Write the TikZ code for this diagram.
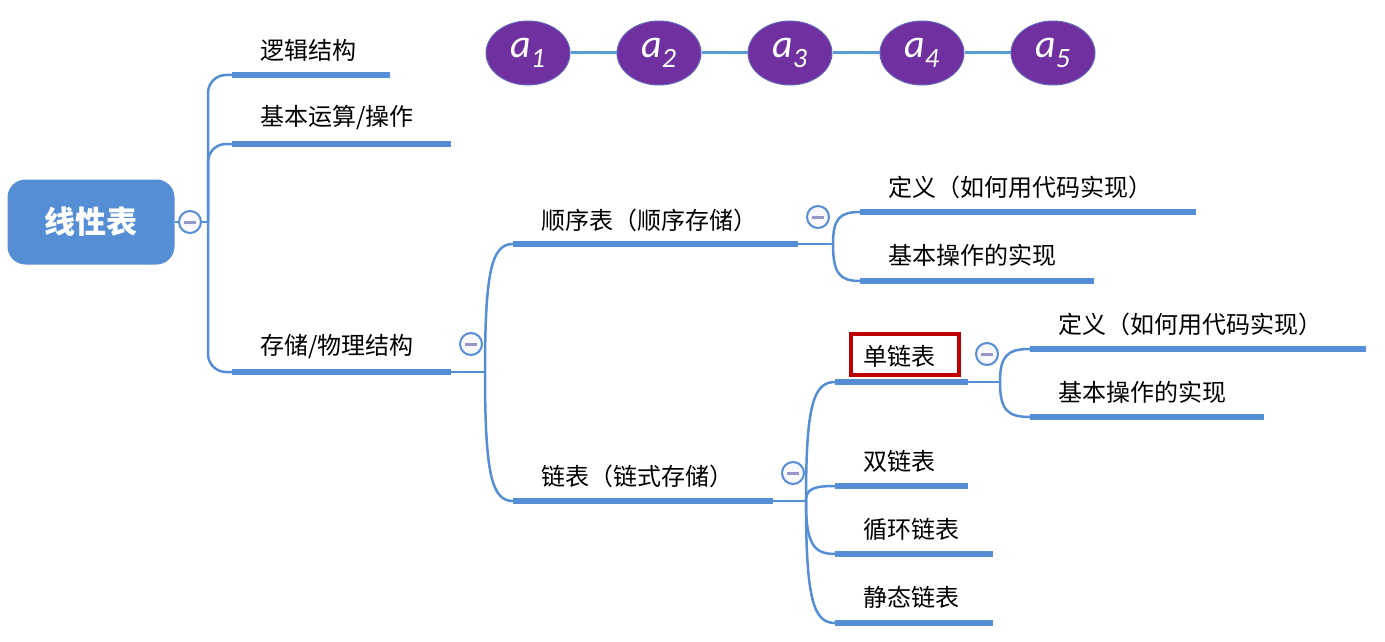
\documentclass[tikz,border=0pt]{standalone}
\usepackage{fontspec}
\setmainfont{Noto Sans CJK SC}
\newfontfamily\latinf{Carlito}
\usetikzlibrary{shapes.geometric,calc}
\definecolor{mblue}{RGB}{85,142,213}
\definecolor{lblue}{RGB}{91,155,213}
\definecolor{epurple}{RGB}{112,48,160}
\definecolor{dred}{RGB}{192,0,0}
\definecolor{minusc}{RGB}{150,150,200}
\definecolor{foldfill}{RGB}{248,248,250}
\begin{document}
\begin{tikzpicture}[x=1pt,y=-1pt,
 lbl/.style={anchor=west,inner sep=0pt,font=\fontsize{24}{28}\selectfont},
 bar/.style={line width=5.5pt,mblue},
 conn/.style={line width=2.5pt,mblue},
 elem/.style={ellipse,fill=epurple,draw=lblue!50!epurple,line width=1pt,minimum width=84pt,minimum height=64pt,inner sep=0pt,text=white,font=\latinf\itshape\fontsize{40}{40}\selectfont},
 fold/.style={circle,draw=mblue,line width=2pt,fill=foldfill,minimum size=22pt,inner sep=0pt,
   path picture={\draw[minusc,line width=3pt] ($(path picture bounding box.center)+(-6,0)$) -- ++(12,0);}},
 rootbox/.style={rectangle,rounded corners=18pt,fill=mblue,minimum width=167pt,minimum height=85pt,text=white,font=\bfseries\fontsize{31}{34}\selectfont},
 branch/.style={to path={.. controls ($(\tikztostart)!0.8!(\tikztostart|-\tikztotarget)$) and ($(\tikztotarget)!0.75!(\tikztostart|-\tikztotarget)$) .. (\tikztotarget)}}
]
\useasboundingbox (0,0) rectangle (1385,642);

% element chain
\node[elem] (a1) at (528,53) {a\textsubscript{1}};
\node[elem] (a2) at (659,53) {a\textsubscript{2}};
\node[elem] (a3) at (790,53) {a\textsubscript{3}};
\node[elem] (a4) at (922,53) {a\textsubscript{4}};
\node[elem] (a5) at (1053,53) {a\textsubscript{5}};
\draw[line width=3pt,lblue] (a1) -- (a2) (a2) -- (a3) (a3) -- (a4) (a4) -- (a5);

% root
\node[rootbox] (root) at (91,222) {线性表};
\coordinate (t0) at (208,222);

% bars
\coordinate (b1s) at (232,75);   \coordinate (b1e) at (390,75);
\coordinate (b2s) at (232,144);  \coordinate (b2e) at (451,144);
\coordinate (b3s) at (232,372);  \coordinate (b3e) at (451,372);
\coordinate (b4s) at (513,244);  \coordinate (b4e) at (798,244);
\coordinate (b5s) at (513,501);  \coordinate (b5e) at (773,501);
\coordinate (b6s) at (860,212);  \coordinate (b6e) at (1196,212);
\coordinate (b7s) at (860,281);  \coordinate (b7e) at (1094,281);
\coordinate (b8s) at (835,382);  \coordinate (b8e) at (968,382);
\coordinate (b9s) at (1030,349); \coordinate (b9e) at (1366,349);
\coordinate (b10s) at (1030,417); \coordinate (b10e) at (1264,417);
\coordinate (b11s) at (835,486); \coordinate (b11e) at (968,486);
\coordinate (b12s) at (835,554); \coordinate (b12e) at (993,554);
\coordinate (b13s) at (835,623); \coordinate (b13e) at (993,623);

% junctions
\coordinate (j3) at (485,372);
\coordinate (j4) at (833,244);
\coordinate (j5) at (806,501);
\coordinate (j8) at (1000,382);

% connectors
\draw[conn] (root.east) -- (t0);
\draw[conn,rounded corners=18pt] (t0) |- (b1s);
\draw[conn,rounded corners=18pt] (t0) |- (b2s);
\draw[conn,rounded corners=18pt] (t0) |- (b3s);
\draw[conn] (b3e) -- (j3);
\draw[conn] (j3) to[branch] (b4s);
\draw[conn] (j3) to[branch] (b5s);
\draw[conn] (b4e) -- (j4);
\draw[conn] (j4) to[branch] (b6s);
\draw[conn] (j4) to[branch] (b7s);
\draw[conn] (b5e) -- (j5);
\draw[conn] (j5) to[branch] (b8s);
\draw[conn] (j5) to[branch] (b11s);
\draw[conn] (j5) to[branch] (b12s);
\draw[conn] (j5) to[branch] (b13s);
\draw[conn] (b8e) -- (j8);
\draw[conn] (j8) to[branch] (b9s);
\draw[conn] (j8) to[branch] (b10s);

\foreach \i in {1,...,13} { \draw[bar] (b\i s) -- (b\i e); }

% labels
\node[lbl] (l1) at (260,50) {逻辑结构};
\node[lbl] (l2) at (260,118) {基本运算/操作};
\node[lbl] (l3) at (260,347) {存储/物理结构};
\node[lbl] (l4) at (541,220) {顺序表（顺序存储）};
\node[lbl] (l5) at (541,476) {链表（链式存储）};
\node[lbl] (l6) at (888,187) {定义（如何用代码实现）};
\node[lbl] (l7) at (888,255) {基本操作的实现};
\node[lbl] (l8) at (863,356) {单链表};
\node[lbl] (l9) at (1058,324) {定义（如何用代码实现）};
\node[lbl] (l10) at (1058,392) {基本操作的实现};
\node[lbl] (l11) at (863,461) {双链表};
\node[lbl] (l12) at (863,529) {循环链表};
\node[lbl] (l13) at (863,597) {静态链表};

\draw[dred,line width=3.5pt] ($(l8.west)+(-12,-22)$) rectangle ($(l8.west)+(96,19)$);

% fold markers
\node[fold] (f0) at (190,222) {};
\node[fold] (f3) at (471,344) {};
\node[fold] (f4) at (818,217) {};
\node[fold] (f5) at (793,473) {};
\node[fold] (f8) at (987,354) {};
\end{tikzpicture}
\end{document}
